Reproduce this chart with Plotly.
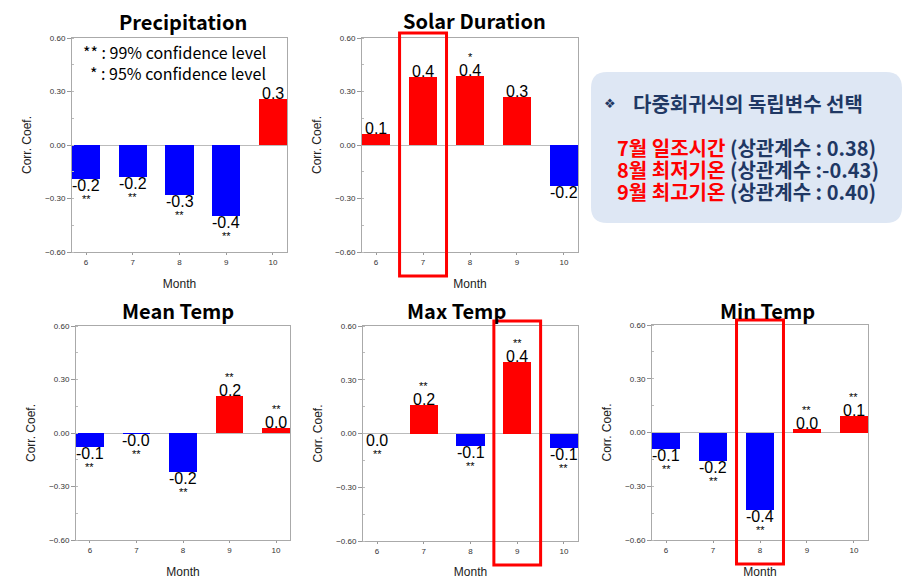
import plotly.graph_objects as go

W, H = 903, 579

months = [6, 7, 8, 9, 10]
month_labels = ["6", "7", "8", "9", "10"]

titles = ["Precipitation", "Solar Duration", "Mean Temp", "Max Temp", "Min Temp"]

precip = [-0.19, -0.18, -0.28, -0.40, 0.26]
solar = [0.06, 0.38, 0.385, 0.27, -0.23]
mean_temp = [-0.08, -0.004, -0.22, 0.21, 0.03]
max_temp = [0.0, 0.16, -0.07, 0.40, -0.08]
min_temp = [-0.09, -0.16, -0.43, 0.02, 0.09]

precip_sig = ["**", "**", "**", "**", ""]
solar_sig = ["", "", "*", "", ""]
mean_sig = ["**", "**", "**", "**", "**"]
max_sig = ["**", "**", "**", "**", "**"]
min_sig = ["**", "**", "**", "**", "**"]

ytick_vals = [-0.6, -0.3, 0.0, 0.3, 0.6]

series = [precip, solar, mean_temp, max_temp, min_temp]
sigs = [precip_sig, solar_sig, mean_sig, max_sig, min_sig]

# panel plot areas in pixels: (left, top, right, bottom)
boxes = [
    (72, 38, 287, 252),
    (362, 38, 578, 252),
    (76, 326, 290, 540),
    (363, 326, 578, 541),
    (652, 325, 868, 540),
]
title_x = [183, 475, 178, 457, 767]
title_y = [22, 20, 310, 310, 310]
# highlighted month per panel (None = no box)
highlight = [None, 7, None, 9, 8]

fig = go.Figure()
LBL_FONT = "Liberation Sans, Arial, sans-serif"
TITLE_FONT = "Noto Sans CJK KR, Noto Sans, sans-serif"

annotations = []
shapes = []

for i, (vals, sig, box, title) in enumerate(zip(series, sigs, boxes, titles)):
    n = i + 1
    xa = "x" if n == 1 else f"x{n}"
    ya = "y" if n == 1 else f"y{n}"
    colors = ["#FF0000" if v > 0 else "#0000FF" for v in vals]
    fig.add_trace(go.Bar(x=months, y=vals, marker=dict(color=colors, line=dict(width=0)),
                         width=0.6, xaxis=xa, yaxis=ya, showlegend=False,
                         hoverinfo="skip"))
    l, t, r, b = box
    dom_x = [l / W, r / W]
    dom_y = [1 - b / H, 1 - t / H]
    xkey = "xaxis" if n == 1 else f"xaxis{n}"
    ykey = "yaxis" if n == 1 else f"yaxis{n}"
    fig.layout[xkey] = dict(
        domain=dom_x, range=[5.7, 10.3], anchor=ya, automargin=False,
        tickvals=months, ticktext=month_labels,
        tickfont=dict(size=8, family=LBL_FONT, color="#333"),
        ticks="outside", ticklen=2, tickcolor="#999",
        showline=True, linecolor="#aaaaaa", linewidth=1, mirror=True,
        showgrid=False, zeroline=False,
        title=dict(text="Month", font=dict(size=12, family=LBL_FONT, color="#222"), standoff=14),
    )
    fig.layout[ykey] = dict(
        domain=dom_y, range=[-0.6, 0.6], anchor=xa, automargin=False,
        tickvals=ytick_vals, tickformat=".2f",
        tickfont=dict(size=8, family=LBL_FONT, color="#333"),
        ticks="outside", ticklen=4, tickcolor="#999",
        minor=dict(dtick=0.15, ticks="inside", ticklen=2, tickcolor="#bbb"),
        showline=True, linecolor="#aaaaaa", linewidth=1, mirror=True,
        showgrid=False, zeroline=True, zerolinecolor="#bbbbbb", zerolinewidth=1,
        title=dict(text="Corr. Coef.", font=dict(size=12, family=LBL_FONT, color="#222"), standoff=10),
    )
    # panel title
    annotations.append(dict(
        text=f"<b>{title}</b>", xref="paper", yref="paper",
        x=title_x[i] / W, y=1 - title_y[i] / H, xanchor="center", yanchor="middle",
        showarrow=False, font=dict(size=20, family=TITLE_FONT, color="#000"),
    ))
    # value labels and significance stars
    for m, v, s in zip(months, vals, sig):
        txt = f"{v:.1f}"
        if v > 0:
            annotations.append(dict(text=txt, x=m, y=v, xref=xa, yref=ya,
                                    xanchor="center", yanchor="bottom", yshift=-5,
                                    showarrow=False,
                                    font=dict(size=16, family=LBL_FONT, color="#000")))
            if s:
                annotations.append(dict(text=s, x=m, y=v, xref=xa, yref=ya,
                                        xanchor="center", yanchor="bottom", yshift=11,
                                        showarrow=False,
                                        font=dict(size=11, family=LBL_FONT, color="#000")))
        else:
            annotations.append(dict(text=txt, x=m, y=v, xref=xa, yref=ya,
                                    xanchor="center", yanchor="top", yshift=4,
                                    showarrow=False,
                                    font=dict(size=16, family=LBL_FONT, color="#000")))
            if s:
                annotations.append(dict(text=s, x=m, y=v, xref=xa, yref=ya,
                                        xanchor="center", yanchor="top", yshift=-12,
                                        showarrow=False,
                                        font=dict(size=11, family=LBL_FONT, color="#000")))
    hm = highlight[i]
    if hm is not None:
        shapes.append(dict(type="rect", xref=xa, yref="paper",
                           x0=hm - 0.5, x1=hm + 0.5,
                           y0=1 - (b + 24) / H, y1=1 - (t - 5) / H,
                           line=dict(color="#FF0000", width=3), fillcolor="rgba(0,0,0,0)"))

# confidence legend inside Precipitation panel
annotations.append(dict(
    text="** : 99% confidence level", xref="paper", yref="paper",
    x=81 / W, y=1 - 52 / H, xanchor="left", yanchor="middle", showarrow=False,
    font=dict(size=16, family="Noto Sans CJK KR, Noto Sans, sans-serif", color="#000"),
))
annotations.append(dict(
    text="* : 95% confidence level", xref="paper", yref="paper",
    x=88 / W, y=1 - 73 / H, xanchor="left", yanchor="middle", showarrow=False,
    font=dict(size=16, family="Noto Sans CJK KR, Noto Sans, sans-serif", color="#000"),
))

# info box
def rounded_rect(x0, y0, x1, y1, rad):
    def px(x):
        return x / W
    def py(y):
        return 1 - y / H
    p = (f"M {px(x0 + rad)},{py(y0)} L {px(x1 - rad)},{py(y0)} "
         f"Q {px(x1)},{py(y0)} {px(x1)},{py(y0 + rad)} "
         f"L {px(x1)},{py(y1 - rad)} Q {px(x1)},{py(y1)} {px(x1 - rad)},{py(y1)} "
         f"L {px(x0 + rad)},{py(y1)} Q {px(x0)},{py(y1)} {px(x0)},{py(y1 - rad)} "
         f"L {px(x0)},{py(y0 + rad)} Q {px(x0)},{py(y0)} {px(x0 + rad)},{py(y0)} Z")
    return p

shapes.insert(0, dict(type="path", xref="paper", yref="paper",
                      path=rounded_rect(591, 72, 902, 223, 16),
                      fillcolor="#DEE7F4", line=dict(width=0), layer="below"))

NAVY = "#1F3864"
annotations.append(dict(
    text="❖", xref="paper", yref="paper", x=602 / W, y=1 - 103 / H,
    xanchor="left", yanchor="middle", showarrow=False,
    font=dict(size=13, family="DejaVu Sans", color=NAVY),
))
annotations.append(dict(
    text="<b>다중회귀식의 독립변수 선택</b>", xref="paper", yref="paper",
    x=631 / W, y=1 - 103 / H, xanchor="left", yanchor="middle", showarrow=False,
    font=dict(size=20, family="Noto Sans CJK KR", color=NAVY),
))
info_lines = [
    ("7월 일조시간", "(상관계수 : 0.38)"),
    ("8월 최저기온", "(상관계수 :-0.43)"),
    ("9월 최고기온", "(상관계수 : 0.40)"),
]
info_y = [147, 169, 191]
for (a, b2), yy in zip(info_lines, info_y):
    annotations.append(dict(
        text=f"<b><span style='color:#FF0000'>{a}</span> <span style='color:{NAVY}'>{b2}</span></b>",
        xref="paper", yref="paper", x=615 / W, y=1 - yy / H,
        xanchor="left", yanchor="middle", align="left", showarrow=False,
        font=dict(size=20, family="Noto Sans CJK KR", color=NAVY),
    ))

fig.update_layout(
    width=W, height=H, margin=dict(l=0, r=0, t=0, b=0),
    paper_bgcolor="white", plot_bgcolor="white",
    annotations=annotations, shapes=shapes, bargap=0,
)

fig.write_html("out.html", config={"displayModeBar": False},
               post_script="document.body.style.margin='0';document.body.style.overflow='hidden';")
